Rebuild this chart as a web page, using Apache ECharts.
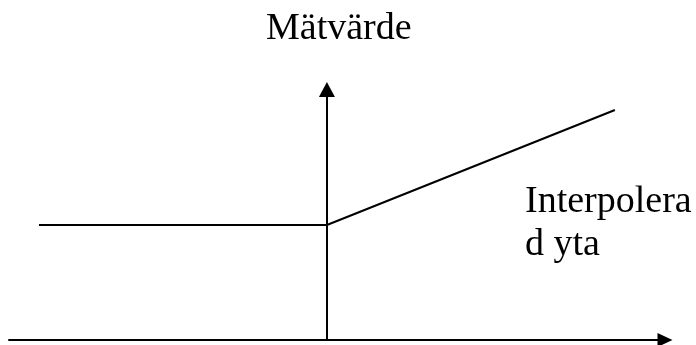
<!DOCTYPE html>
<html><head><meta charset="utf-8">
<script src="https://cdn.jsdelivr.net/npm/echarts@6/dist/echarts.min.js"></script>
<style>html,body{margin:0;padding:0;background:#fff}#c{width:696px;height:345px}</style>
</head><body><div id="c"></div>
<script>
const xValues = [-10, 0, 10];
const yValues = [2, 2, 4];
const axisTitle = 'Mätvärde';
const annotation = 'Interpolera\nd yta';

const chart = echarts.init(document.getElementById('c'));
const font = 'Liberation Serif';
chart.setOption({
  animation: false,
  backgroundColor: '#fff',
  title: [
    { text: axisTitle, left: 266, top: 10, padding: 0,
      textStyle: { fontFamily: font, fontSize: 38, fontWeight: 'normal', color: '#000', lineHeight: 38 } },
    { text: annotation, left: 525, top: 181, padding: 0,
      textStyle: { fontFamily: font, fontSize: 38, fontWeight: 'normal', color: '#000', lineHeight: 43 } }
  ],
  grid: { left: 9, right: 31, top: 89.5, bottom: 5, containLabel: false },
  xAxis: {
    type: 'value', min: -11.04, max: 11.74,
    axisLine: { show: true, onZero: true, symbol: ['none', 'triangle'], symbolSize: [14, 15],
      lineStyle: { color: '#000', width: 2 } },
    axisTick: { show: false }, axisLabel: { show: false }, splitLine: { show: false }
  },
  yAxis: {
    type: 'value', min: 0, max: 4.357,
    axisLine: { show: true, onZero: true, symbol: ['none', 'triangle'], symbolSize: [16, 15],
      lineStyle: { color: '#000', width: 2 } },
    axisTick: { show: false }, axisLabel: { show: false }, splitLine: { show: false }
  },
  series: [{
    type: 'line',
    data: xValues.map((x, i) => [x, yValues[i]]),
    symbol: 'none',
    lineStyle: { color: '#000', width: 2 }
  }]
});
</script></body></html>
